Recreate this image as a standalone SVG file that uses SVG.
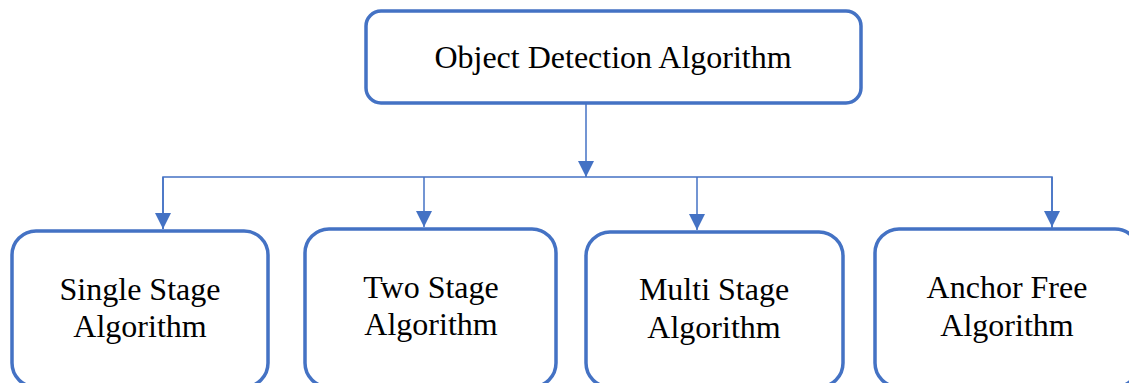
<svg xmlns="http://www.w3.org/2000/svg" width="1129" height="383" viewBox="0 0 1129 383">
<style>
.box{fill:#fff;stroke:#4472C4;stroke-width:3.5}
.lbl{font-family:"Liberation Serif","Times New Roman",serif;font-size:32px;fill:#000;text-anchor:middle}
.ln{fill:none;stroke:#4472C4;stroke-width:1.5}
</style>
<defs>
<marker id="ah" viewBox="0 0 16 16" refX="16" refY="8" markerWidth="16" markerHeight="16" markerUnits="userSpaceOnUse" orient="auto">
<path d="M0,0 L16,8 L0,16 Z" fill="#4472C4"/>
</marker>
</defs>
<g id="connectors">
<line class="ln" x1="586" y1="104" x2="586" y2="177" marker-end="url(#ah)"/>
<polyline class="ln" points="163,229 163,177 1052,177 1052,228"/>
<line class="ln" x1="163" y1="177" x2="163" y2="229" marker-end="url(#ah)"/>
<line class="ln" x1="424" y1="177" x2="424" y2="227" marker-end="url(#ah)"/>
<line class="ln" x1="697" y1="177" x2="697" y2="230" marker-end="url(#ah)"/>
<line class="ln" x1="1052" y1="177" x2="1052" y2="227" marker-end="url(#ah)"/>
</g>
<g id="root">
<rect class="box" x="366" y="11" width="495" height="92" rx="15"/>
<text class="lbl" x="613" y="68">Object Detection Algorithm</text>
</g>
<g id="single">
<rect class="box" x="12" y="231" width="256" height="156" rx="24"/>
<text class="lbl" x="140" y="300">Single Stage</text>
<text class="lbl" x="140" y="337">Algorithm</text>
</g>
<g id="two">
<rect class="box" x="305" y="229" width="251" height="158" rx="24"/>
<text class="lbl" x="431" y="298">Two Stage</text>
<text class="lbl" x="431" y="335">Algorithm</text>
</g>
<g id="multi">
<rect class="box" x="586" y="232" width="257" height="155" rx="24"/>
<text class="lbl" x="714" y="300">Multi Stage</text>
<text class="lbl" x="714" y="338">Algorithm</text>
</g>
<g id="anchor">
<rect class="box" x="875" y="229" width="264" height="158" rx="24"/>
<text class="lbl" x="1007" y="298">Anchor Free</text>
<text class="lbl" x="1007" y="336">Algorithm</text>
</g>
</svg>
